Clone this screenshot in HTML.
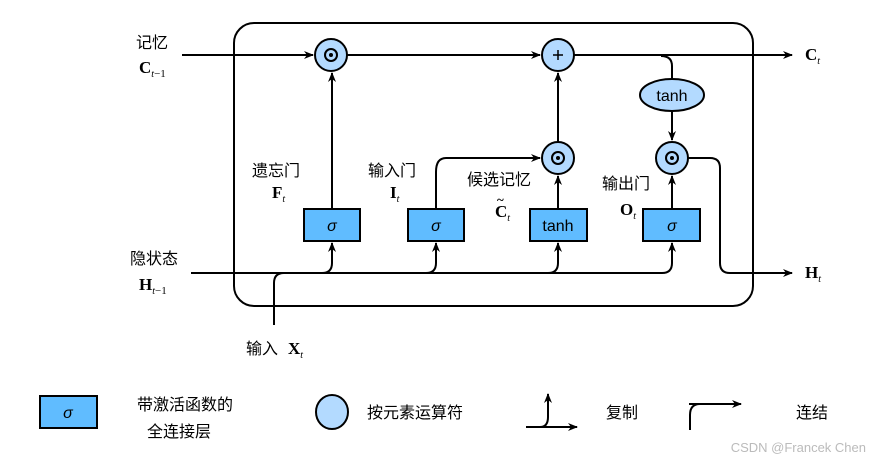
<!DOCTYPE html>
<html><head><meta charset="utf-8"><style>
body{margin:0;background:#fff}
svg text{font-family:"Liberation Sans","Noto Sans CJK SC",sans-serif}
svg text.s{font-family:"Liberation Serif",serif;font-weight:bold}
</style></head><body>
<svg width="870" height="462" viewBox="0 0 870 462" xmlns="http://www.w3.org/2000/svg">
<defs><marker id="a" markerWidth="10" markerHeight="8" refX="9" refY="4" orient="auto" markerUnits="userSpaceOnUse"><path d="M0,0 L10,4 L0,8 L3,4Z" fill="#000"/></marker></defs>
<g fill="none" stroke="#000" stroke-width="2">
<rect x="234" y="23" width="519" height="283" rx="20"/>
<path d="M182,55 H313" marker-end="url(#a)"/>
<path d="M347,55 H540" marker-end="url(#a)"/>
<path d="M574,55 H792" marker-end="url(#a)"/>
<path d="M661,56 Q672,56 672,66 V79"/>
<path d="M672,111 V140" marker-end="url(#a)"/>
<path d="M332,209 V73" marker-end="url(#a)"/>
<path d="M558,142 V73" marker-end="url(#a)"/>
<path d="M558,209 V176" marker-end="url(#a)"/>
<path d="M672,209 V176" marker-end="url(#a)"/>
<path d="M436,209 V172 Q436,158 446,158 H540" marker-end="url(#a)"/>
<path d="M688,158 H710 Q720,158 720,168 V263 Q720,273 730,273 H792" marker-end="url(#a)"/>
<path d="M191,273 H662"/>
<path d="M274,325 V283 Q274,273 284,273"/>
<path d="M322,273 Q332,273 332,263 V243" marker-end="url(#a)"/>
<path d="M426,273 Q436,273 436,263 V243" marker-end="url(#a)"/>
<path d="M548,273 Q558,273 558,263 V243" marker-end="url(#a)"/>
<path d="M662,273 Q672,273 672,263 V243" marker-end="url(#a)"/>
<path d="M526,427 H577" marker-end="url(#a)"/>
<path d="M540,427 Q548,427 548,417 V394" marker-end="url(#a)"/>
<path d="M689,404 H741" marker-end="url(#a)"/>
<path d="M690,430 V415 Q690,404 700,404"/>
</g>
<g stroke="#000" stroke-width="2" fill="#b3daff">
<circle cx="331" cy="55" r="16"/><circle cx="558" cy="55" r="16"/>
<circle cx="558" cy="158" r="16"/><circle cx="672" cy="158" r="16"/>
<ellipse cx="672" cy="95" rx="32" ry="16"/>
<ellipse cx="332" cy="412" rx="16" ry="17"/>
</g>
<g stroke="#000" stroke-width="2" fill="none"><circle cx="331" cy="55" r="6"/><circle cx="558" cy="158" r="6"/><circle cx="672" cy="158" r="6"/>
<path d="M553,55 H563 M558,50 V60" stroke-width="1.5"/></g>
<g fill="#000"><circle cx="331" cy="55" r="2"/><circle cx="558" cy="158" r="2"/><circle cx="672" cy="158" r="2"/></g>
<g stroke="#000" stroke-width="2" fill="#60bcff">
<rect x="304" y="209" width="56" height="32"/><rect x="408" y="209" width="56" height="32"/>
<rect x="530" y="209" width="57" height="32"/><rect x="643" y="209" width="57" height="32"/>
<rect x="40" y="396" width="57" height="32"/>
</g>
<g font-size="16" text-anchor="middle">
<text x="672" y="101">tanh</text>
<text x="558" y="231">tanh</text>
<text x="332" y="231" font-style="italic">σ</text><text x="436" y="231" font-style="italic">σ</text>
<text x="672" y="231" font-style="italic">σ</text><text x="68" y="418" font-style="italic">σ</text>
</g>
<g font-size="16">
<text x="136" y="48">记忆</text>
<text x="130" y="264">隐状态</text>
<text x="252" y="176">遗忘门</text>
<text x="368" y="176">输入门</text>
<text x="467" y="185">候选记忆</text>
<text x="602" y="189">输出门</text>
<text x="246" y="354">输入</text>
<text x="137" y="410">带激活函数的</text>
<text x="147" y="437">全连接层</text>
<text x="367" y="418">按元素运算符</text>
<text x="606" y="418">复制</text>
<text x="796" y="418">连结</text>
</g>
<g font-size="17">
<text class="s" x="139" y="73">C<tspan font-size="10" font-weight="normal" font-style="italic" dy="4">t</tspan><tspan font-size="11" font-weight="normal">−1</tspan></text>
<text class="s" x="139" y="290">H<tspan font-size="10" font-weight="normal" font-style="italic" dy="4">t</tspan><tspan font-size="11" font-weight="normal">−1</tspan></text>
<text class="s" x="272" y="198">F<tspan font-size="10" font-weight="normal" font-style="italic" dy="4">t</tspan></text>
<text class="s" x="390" y="198">I<tspan font-size="10" font-weight="normal" font-style="italic" dy="4">t</tspan></text>
<text class="s" x="495" y="217">C<tspan font-size="10" font-weight="normal" font-style="italic" dy="4">t</tspan></text>
<text class="s" x="497" y="204" font-size="13">~</text>
<text class="s" x="620" y="215">O<tspan font-size="10" font-weight="normal" font-style="italic" dy="4">t</tspan></text>
<text class="s" x="288" y="354">X<tspan font-size="10" font-weight="normal" font-style="italic" dy="4">t</tspan></text>
<text class="s" x="805" y="60">C<tspan font-size="10" font-weight="normal" font-style="italic" dy="4">t</tspan></text>
<text class="s" x="805" y="278">H<tspan font-size="10" font-weight="normal" font-style="italic" dy="4">t</tspan></text>
</g>
<text x="866" y="452" font-size="13" fill="#bbb" text-anchor="end">CSDN @Francek Chen</text>
</svg>
</body></html>
